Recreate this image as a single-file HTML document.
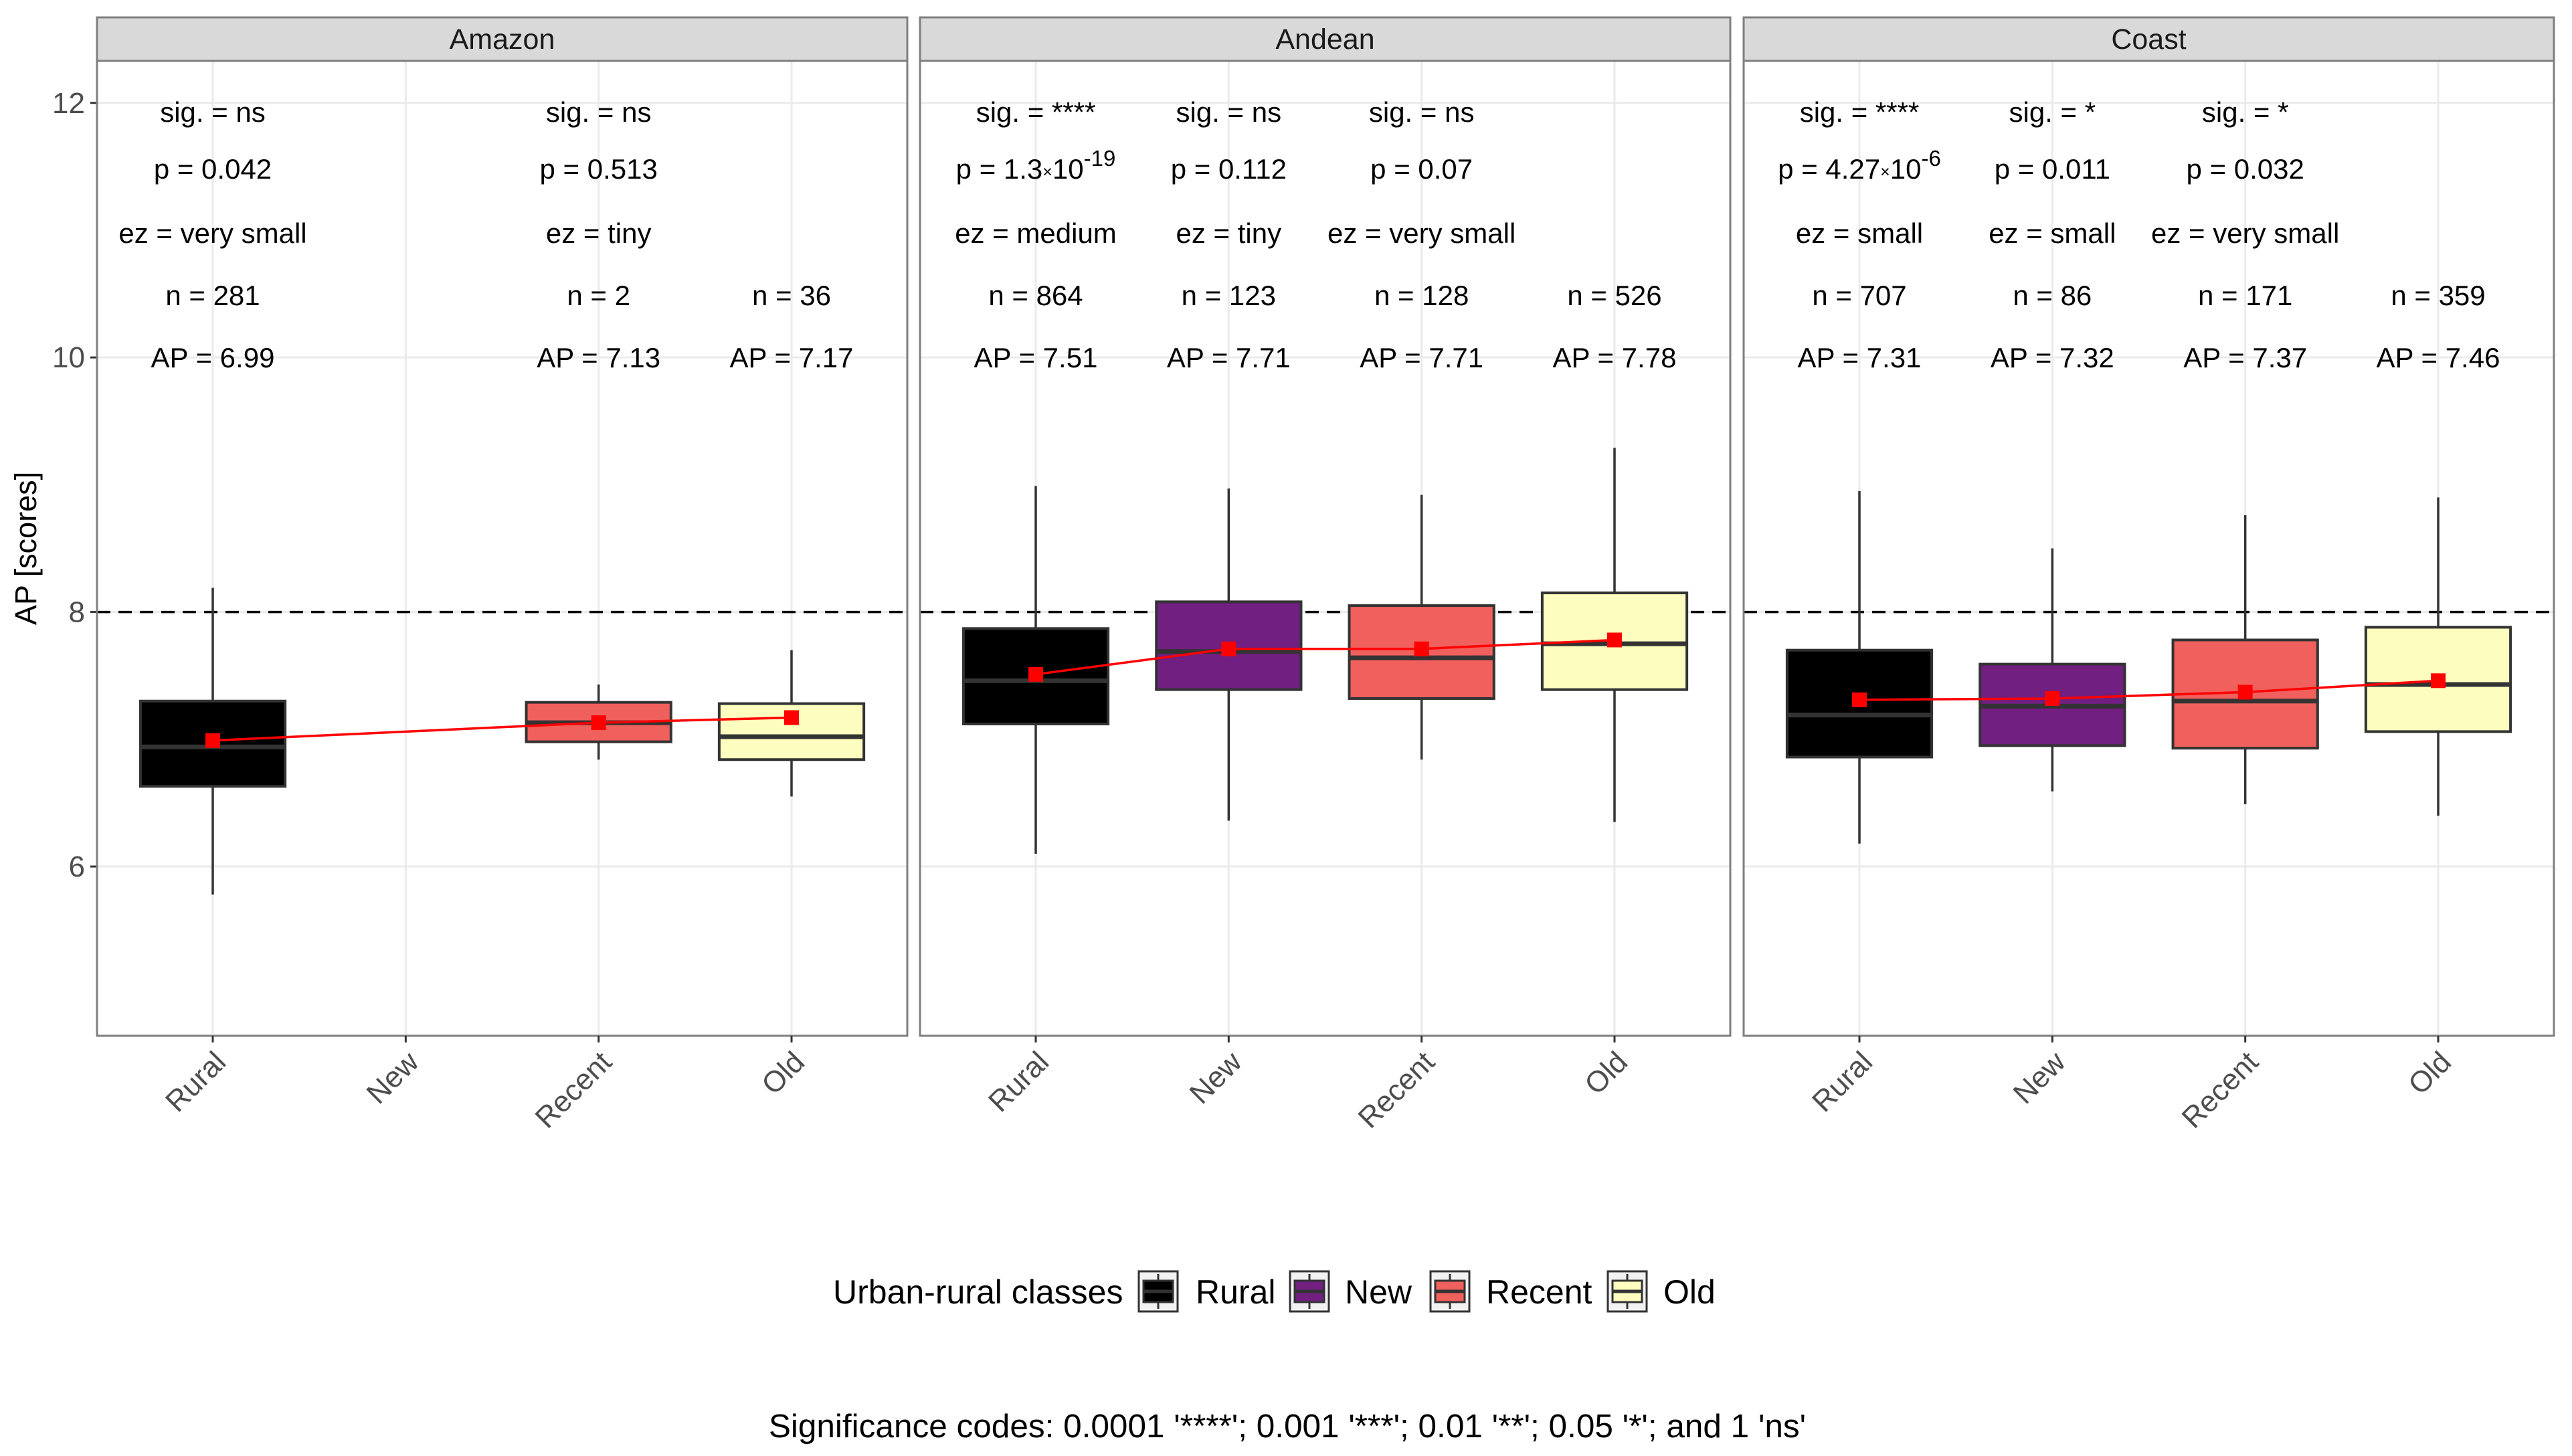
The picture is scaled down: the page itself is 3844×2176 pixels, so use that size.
<!DOCTYPE html>
<html><head><meta charset="utf-8"><style>
html,body{margin:0;padding:0;background:#fff}
svg{display:block;font-family:"Liberation Sans",Arial,sans-serif}
</style></head><body>
<svg id="chart" width="3844" height="2176" viewBox="0 0 3844 2176" xmlns="http://www.w3.org/2000/svg">
<g id="root"></g>
</svg>
<script>
const regions = ["Amazon","Andean","Coast"];
const categories = ["Rural","New","Recent","Old"];
const fills = ["#000000","#711f81","#f0605d","#fcfdbf"];
// per region, per category: [whiskerLow, Q1, median, Q3, whiskerHigh] (null = no data)
const amazonStats = [[5.78,6.63,6.94,7.30,8.19],null,[6.84,6.98,7.13,7.29,7.43],[6.55,6.84,7.02,7.28,7.70]];
const andeanStats = [[6.10,7.12,7.46,7.87,8.99],[6.36,7.39,7.69,8.08,8.97],[6.84,7.32,7.64,8.05,8.92],[6.35,7.39,7.75,8.15,9.29]];
const coastStats  = [[6.18,6.86,7.19,7.70,8.95],[6.59,6.95,7.26,7.59,8.50],[6.49,6.93,7.30,7.78,8.76],[6.40,7.06,7.43,7.88,8.90]];
const amazonMeans = [6.99,null,7.13,7.17];
const andeanMeans = [7.51,7.71,7.71,7.78];
const coastMeans  = [7.31,7.32,7.37,7.46];
const amazonN = ["281",null,"2","36"];
const andeanN = ["864","123","128","526"];
const coastN  = ["707","86","171","359"];
const amazonSig = ["ns",null,"ns",null];
const andeanSig = ["****","ns","ns",null];
const coastSig  = ["****","*","*",null];
const amazonP = [["0.042",""],null,["0.513",""],null];
const andeanP = [["1.3","-19"],["0.112",""],["0.07",""],null];
const coastP  = [["4.27","-6"],["0.011",""],["0.032",""],null];
const amazonEz = ["very small",null,"tiny",null];
const andeanEz = ["medium","tiny","very small",null];
const coastEz  = ["small","small","very small",null];
const yTicks = [6,8,10,12];
const refLine = 8;

const statsAll=[amazonStats,andeanStats,coastStats];
const meansAll=[amazonMeans,andeanMeans,coastMeans];
const nAll=[amazonN,andeanN,coastN];
const sigAll=[amazonSig,andeanSig,coastSig];
const pAll=[amazonP,andeanP,coastP];
const ezAll=[amazonEz,andeanEz,coastEz];

const SVGNS="http://www.w3.org/2000/svg";
const rootG=document.getElementById('root');
function el(tag,attrs,parent,text){const e=document.createElementNS(SVGNS,tag);for(const k in attrs)e.setAttribute(k,attrs[k]);if(text!==undefined)e.textContent=text;(parent||rootG).appendChild(e);return e;}

const panelLefts=[145,1375,2606], panelW=1211, panelTop=91, panelBottom=1548, stripTop=26;
const yMin=4.67, yMax=12.33;
function yScale(v){return panelBottom-(v-yMin)/(yMax-yMin)*(panelBottom-panelTop);}
const step=panelW/(categories.length-1+1.2);
function xScale(p,i){return panelLefts[p]+step*(0.6+i);}

yTicks.forEach(t=>{
  const lab=el('text',{x:127,y:yScale(t)+15,'text-anchor':'end','font-size':44,fill:'#4d4d4d'},rootG,String(t));
  
  
  el('line',{x1:135,x2:145,y1:yScale(t),y2:yScale(t),stroke:'#333','stroke-width':3});
});
const yt=el('text',{transform:`translate(54,${(panelTop+panelBottom)/2}) rotate(-90)`,'text-anchor':'middle','font-size':45,fill:'#000'},rootG,'AP [scores]');



regions.forEach((r,p)=>{
  const L=panelLefts[p];
  const g=el('g',{});
  
  
  const st=el('rect',{x:L,y:stripTop,width:panelW,height:panelTop-stripTop,fill:'#d9d9d9',stroke:'#7f7f7f','stroke-width':3},g);
  
  
  el('line',{x1:L,x2:L+panelW,y1:panelTop,y2:panelTop,stroke:'#333','stroke-width':3},g);
  const stt=el('text',{x:L+panelW/2,y:73,'text-anchor':'middle','font-size':43,fill:'#1a1a1a'},g,r);
  
  
  yTicks.forEach(t=>el('line',{x1:L,x2:L+panelW,y1:yScale(t),y2:yScale(t),stroke:'#ebebeb','stroke-width':3},g));
  categories.forEach((c,i)=>el('line',{x1:xScale(p,i),x2:xScale(p,i),y1:panelTop,y2:panelBottom,stroke:'#ebebeb','stroke-width':3},g));
  const rl=el('line',{x1:L,x2:L+panelW,y1:yScale(refLine),y2:yScale(refLine),stroke:'#000','stroke-width':3.5,'stroke-dasharray':'20 12'},g);
  
  
  const bw=step*0.75;
  statsAll[p].forEach((s,i)=>{
    if(!s)return;
    const cx=xScale(p,i);
    const bg=el('g',{},g);
    
    
    el('line',{x1:cx,x2:cx,y1:yScale(s[0]),y2:yScale(s[4]),stroke:'#333','stroke-width':3.5},bg);
    el('rect',{x:cx-bw/2,y:yScale(s[3]),width:bw,height:yScale(s[1])-yScale(s[3]),fill:fills[i],stroke:'#333','stroke-width':4},bg);
    el('line',{x1:cx-bw/2,x2:cx+bw/2,y1:yScale(s[2]),y2:yScale(s[2]),stroke:'#333','stroke-width':7},bg);
  });
  const pts=[];
  meansAll[p].forEach((m,i)=>{if(m!==null)pts.push([xScale(p,i),yScale(m)]);});
  const ml=el('polyline',{points:pts.map(q=>q.join(',')).join(' '),fill:'none',stroke:'#ff0000','stroke-width':3.5},g);
  
  
  meansAll[p].forEach((m,i)=>{
    if(m===null)return;
    const mk=el('rect',{x:xScale(p,i)-11,y:yScale(m)-11,width:22,height:22,fill:'#ff0000'},g);
    
    
  });
  const rowsY=[167,252,348,441,534];
  categories.forEach((c,i)=>{
    const cx=xScale(p,i);
    const tx=(yy,txt,name)=>{const t=el('text',{x:cx,y:yy+15,'text-anchor':'middle','font-size':42,fill:'#000'},g,txt);return t;};
    const key=r.toLowerCase()+'-'+c.toLowerCase();
    if(sigAll[p][i]) tx(rowsY[0],'sig. = '+sigAll[p][i],'sig-label-'+key);
    const pv=pAll[p][i];
    if(pv){
      if(pv[1]){
        const t=tx(rowsY[1],'','p-label-'+key);
        t.appendChild(document.createTextNode('p = '+pv[0]));
        el('tspan',{'font-size':25,dy:-2},t,'×');
        el('tspan',{dy:2},t,'10');
        el('tspan',{'font-size':33,dy:-19},t,pv[1]);
      } else tx(rowsY[1],'p = '+pv[0],'p-label-'+key);
    }
    if(ezAll[p][i]) tx(rowsY[2],'ez = '+ezAll[p][i],'ez-label-'+key);
    if(nAll[p][i]) tx(rowsY[3],'n = '+nAll[p][i],'n-label-'+key);
    if(meansAll[p][i]!==null) tx(rowsY[4],'AP = '+meansAll[p][i].toFixed(2),'ap-label-'+key);
  });
  el('rect',{x:L,y:panelTop,width:panelW,height:panelBottom-panelTop,fill:'none',stroke:'#7f7f7f','stroke-width':3},g);
  categories.forEach((c,i)=>{
    const cx=xScale(p,i);
    el('line',{x1:cx,x2:cx,y1:panelBottom,y2:panelBottom+10,stroke:'#333','stroke-width':3},g);
    const lb=el('text',{transform:`translate(${cx+22},${panelBottom+42}) rotate(-45)`,'text-anchor':'end','font-size':44,fill:'#4d4d4d'},g,c);
    
    
  });
});

const lg=el('g',{});


const lt=el('text',{x:1245,y:1948,'font-size':50,fill:'#000'},lg,'Urban-rural classes');


const keyX=[1702,1928,2138,2403];
const labX=[1787,2010,2221,2486];
categories.forEach((c,i)=>{
  const e=el('g',{},lg);
  
  
  el('rect',{x:keyX[i],y:1900,width:58,height:60,fill:'#f2f2f2',stroke:'#333','stroke-width':3},e);
  el('line',{x1:keyX[i]+29,x2:keyX[i]+29,y1:1904,y2:1956,stroke:'#333','stroke-width':3},e);
  el('rect',{x:keyX[i]+7,y:1914,width:44,height:32,fill:fills[i],stroke:'#333','stroke-width':3},e);
  el('line',{x1:keyX[i]+7,x2:keyX[i]+51,y1:1930,y2:1930,stroke:'#333','stroke-width':5},e);
  el('text',{x:labX[i],y:1948,'font-size':50,fill:'#000'},e,c);
});
const sc=el('text',{x:1924,y:2148,'text-anchor':'middle','font-size':49.5,fill:'#000'},rootG,"Significance codes: 0.0001 '****'; 0.001 '***'; 0.01 '**'; 0.05 '*'; and 1 'ns'");


</script>
</body></html>
